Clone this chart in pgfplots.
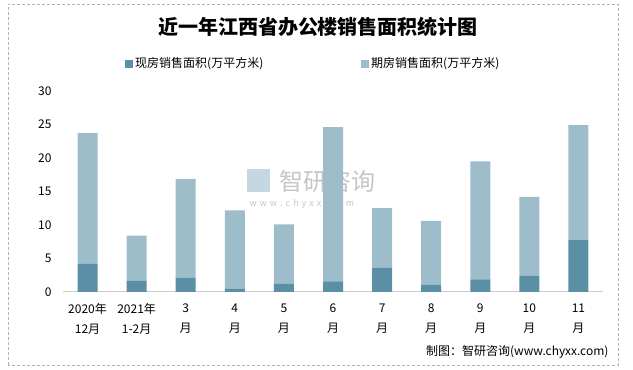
\documentclass[border=0pt]{standalone}
\usepackage{fontspec}
\setmainfont{Noto Sans CJK SC}
\usepackage{pgfplots}
\pgfplotsset{compat=1.18}
\definecolor{darkb}{RGB}{91,143,166}
\definecolor{lightb}{RGB}{158,189,203}
\begin{document}
\begin{tikzpicture}
\path[use as bounding box] (0,0) rectangle (633pt,370pt);
\draw[gray!60, densely dashed] (8pt,5pt) rectangle (618pt,366pt);
% watermark
\node[text=gray!45, font=\fontsize{24}{26}\selectfont, anchor=west] at (276pt,189pt) {智研咨询};
\node[text=gray!45, font=\fontsize{9}{10}\selectfont, anchor=west] at (246pt,166pt) {w\,\,w\,\,w\,\,.\,\,c\,\,h\,\,y\,\,x\,\,x\,\,.\,\,c\,\,o\,\,m};
\fill[lightb!60] (247pt,178pt) rectangle (270pt,201pt);
\begin{axis}[
  scale only axis, width=540pt, height=201pt,
  at={(63pt,78pt)}, anchor=south west,
  ybar stacked, bar width=20pt,
  ymin=0, ymax=30, ytick={0,5,...,30},
  xmin=-0.5, xmax=10.5,
  xtick={0,...,10},
  xticklabels={{2020年\\12月},{2021年\\1-2月},{3\\月},{4\\月},{5\\月},{6\\月},{7\\月},{8\\月},{9\\月},{10\\月},{11\\月}},
  xticklabel style={align=center, font=\fontsize{12}{20}\selectfont, yshift=-8pt},
  yticklabel style={font=\fontsize{12}{14}\selectfont},
  /pgf/number format/assume math mode=true,
  axis y line=none,
  axis x line*=bottom,
  x axis line style={gray!40, line width=1pt, -},
  major tick length=0pt,
  ytick style={draw=none}, xtick style={draw=none},
  clip=false,
]
\addplot[fill=darkb, draw=none] coordinates {(0,4.2) (1,1.65) (2,2.1) (3,0.45) (4,1.2) (5,1.6) (6,3.6) (7,1.05) (8,1.9) (9,2.4) (10,7.8)};
\addplot[fill=lightb, draw=none] coordinates {(0,19.5) (1,6.75) (2,14.8) (3,11.75) (4,8.9) (5,23.0) (6,8.9) (7,9.55) (8,17.6) (9,11.8) (10,17.1)};
\end{axis}
\begin{axis}[
  scale only axis, width=540pt, height=201pt,
  at={(63pt,78pt)}, anchor=south west,
  ymin=0, ymax=30, ytick={0,5,...,30},
  xmin=-0.5, xmax=10.5, xtick=\empty,
  hide x axis, axis y line*=left, y axis line style={draw=none},
  yticklabel style={font=\fontsize{12}{14}\selectfont, xshift=-8pt},
  /pgf/number format/assume math mode=true,
  ytick style={draw=none},
]
\addplot[draw=none] coordinates {(0,0)};
\end{axis}
\node[font=\bfseries\fontsize{20}{22}\selectfont] at (318pt,343pt) {近一年江西省办公楼销售面积统计图};
\fill[darkb] (125pt,302pt) rectangle (133pt,310pt);
\node[anchor=west, font=\fontsize{12}{14}\selectfont, inner sep=1pt] at (134pt,306pt) {现房销售面积(万平方米)};
\fill[lightb] (361pt,302pt) rectangle (369pt,310pt);
\node[anchor=west, font=\fontsize{12}{14}\selectfont, inner sep=1pt] at (370pt,306pt) {期房销售面积(万平方米)};
\node[anchor=east, font=\fontsize{12}{14}\selectfont] at (612pt,18pt) {制图：智研咨询(www.chyxx.com)};
\end{tikzpicture}
\end{document}
